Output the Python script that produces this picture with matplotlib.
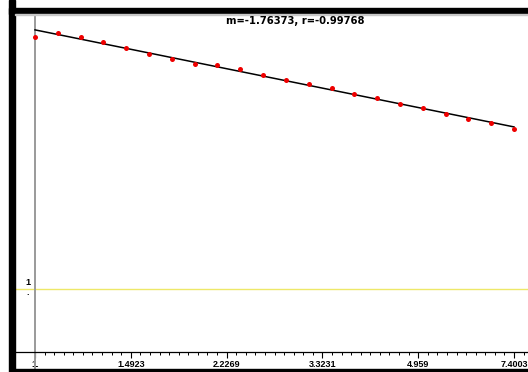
import numpy as np
import matplotlib
matplotlib.use('Agg')
import matplotlib.pyplot as plt

plt.rcParams['font.family'] = ['Liberation Sans', 'DejaVu Sans']

# data
xs = [1.0, 1.1, 1.21, 1.331, 1.4641, 1.6105, 1.7716, 1.9487, 2.1436, 2.3579, 2.5937,
      2.8531, 3.1384, 3.4523, 3.7975, 4.1772, 4.595, 5.0545, 5.5599, 6.1159, 6.7275, 7.4002]
ys = [9070, 10720, 9070, 7570, 6160, 5010, 4180, 3480, 3370, 2850, 2320,
      1910, 1690, 1430, 1165, 1010, 811, 701, 564, 471, 403, 324]
xtick_vals = [1.0, 1.4923, 2.2269, 3.3231, 4.959, 7.4003]
xtick_labels = ['1.', '1.4923', '2.2269', '3.3231', '4.959', '7.4003']
fit_label = 'm=-1.76373, r=-0.99768'

W, H = 528, 372
fig = plt.figure(figsize=(W / 100, H / 100), dpi=100)

def fx(px):
    return px / W

def fy(py):
    return 1 - py / H

ax = fig.add_axes([fx(15), fy(369), fx(513), (369 - 14) / H])

lx = np.log(xs)
ly = np.log(ys)
m, b = np.polyfit(lx, ly, 1)

# reference line at y=1
ax.axhline(0, color='#eee868', lw=1.0, zorder=1)
# y axis at x=1
ax.axvline(0, color='#9a9a9a', lw=1.4, zorder=2)

line_x = np.array([lx[0], lx[-1]])
ax.plot(line_x, m * line_x + b, color='black', lw=1.1, zorder=3)
ax.plot(lx, ly, 'o', color='#ee0000', ms=3.6, mec='none', zorder=4)

for s in ['top', 'right', 'left']:
    ax.spines[s].set_visible(False)
ax.spines['bottom'].set_position(('data', -2.281))
ax.spines['bottom'].set_linewidth(0.9)

major = np.log(xtick_vals)
ax.set_xticks(major)
ax.set_xticklabels(xtick_labels, fontsize=6.5, fontweight='bold')
step = major[1] / 10
minor = [k * step for k in range(1, 52) if k % 10 != 0]
ax.set_xticks(minor, minor=True)
ax.tick_params(axis='x', which='major', direction='out', length=4.5, width=0.8, pad=1)
ax.tick_params(axis='x', which='minor', direction='out', length=2, width=0.7)
ax.set_yticks([])

ax.set_xlim(-0.0836, 2.060)
ax.set_ylim(-2.896, 9.957)

# y tick label "1." stacked
ax.text(-0.03, 0.25, '1', fontsize=6.5, fontweight='bold', ha='center', va='center')
ax.text(-0.03, -0.12, '.', fontsize=6.5, fontweight='bold', ha='center', va='center')

fig.text(fx(295), fy(21), fit_label, fontsize=7.2, fontweight='bold',
         family='DejaVu Sans', ha='center', va='center')

# black frame bands
fig.add_artist(plt.Rectangle((fx(9), fy(372)), fx(6), 1, color='black', transform=fig.transFigure))
fig.add_artist(plt.Rectangle((fx(9), fy(14)), 1, 6 / H, color='black', transform=fig.transFigure))
fig.add_artist(plt.Rectangle((fx(15), fy(15)), 1, 1 / H, color='#c8c8c8', transform=fig.transFigure))
fig.add_artist(plt.Rectangle((fx(15), fy(371)), 1, 2 / H, color='black', transform=fig.transFigure))

fig.savefig('out.png', dpi=100)
